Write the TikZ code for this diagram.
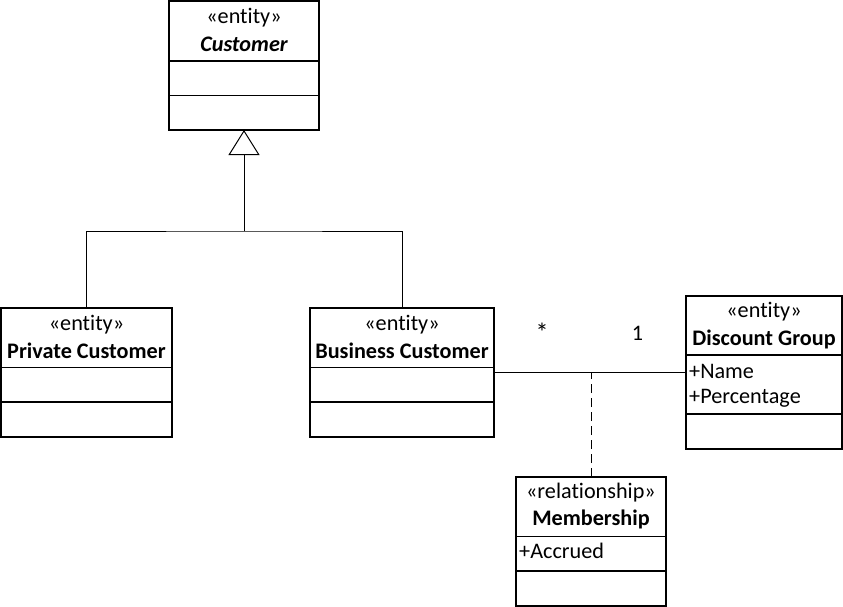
\documentclass[tikz,border=0pt]{standalone}
\usepackage{fontspec}
\setmainfont{Carlito}[Ligatures={NoCommon,NoRequired,NoContextual}]
\usetikzlibrary{arrows.meta}
\tikzset{
  umlbox/.style={draw, line width=1.6pt, anchor=north west, inner sep=0pt, outer sep=0pt},
  divider/.style={line width=1.6pt},
  conn/.style={line width=1pt},
  txt/.style={inner sep=0pt, font=\fontsize{22.2}{26}\selectfont},
  btxt/.style={inner sep=0pt, font=\fontsize{22.2}{26}\selectfont\bfseries},
}
\begin{document}
\begin{tikzpicture}[x=1pt, y=-1pt]
\useasboundingbox[fill=white] (0,0) rectangle (843,607);
% Customer
\node[umlbox, minimum width=150pt, minimum height=129pt] (cust) at (169,1) {};
\draw[divider] (169,61) -- (319,61) (169,95.5) -- (319,95.5);
\node[txt] (custst) at (244,18) {«entity»};
\node[btxt, font=\fontsize{22.2}{26}\selectfont\bfseries\itshape] (custnm) at (244,44) {Customer};
% Private Customer
\node[umlbox, minimum width=171pt, minimum height=129pt] (pc) at (1,308) {};
\draw[divider] (1,367.5) -- (172,367.5) (1,402) -- (172,402);
\node[txt] (pcst) at (86.5,325) {«entity»};
\node[btxt] (pcnm) at (86.5,351) {Private Customer};
% Business Customer
\node[umlbox, minimum width=184pt, minimum height=129pt] (bc) at (310,308) {};
\draw[divider] (310,367.5) -- (494,367.5) (310,402) -- (494,402);
\node[txt] (bcst) at (402,325) {«entity»};
\node[btxt] (bcnm) at (402,351) {Business Customer};
% Discount Group
\node[umlbox, minimum width=156pt, minimum height=153pt] (dg) at (686,296) {};
\draw[divider] (686,355) -- (842,355) (686,414) -- (842,414);
\node[txt] (dgst) at (764,312) {«entity»};
\node[btxt] (dgnm) at (764,339) {Discount Group};
\node[txt, anchor=west] (dga1) at (689,371) {+Name};
\node[txt, anchor=west] (dga2) at (689,398) {+Percentage};
% Membership
\node[umlbox, minimum width=150pt, minimum height=129pt] (mem) at (516,477) {};
\draw[divider] (516,536.5) -- (666,536.5) (516,571) -- (666,571);
\node[txt] (memst) at (591,493) {«relationship»};
\node[btxt] (memnm) at (591,519) {Membership};
\node[txt, anchor=west] (mema1) at (519,551) {+Accrued};
% Generalization
\coordinate (j) at (244,231);
\draw[conn] (pc.north) |- (j) -| (bc.north);
\draw[conn, -{Triangle[open, length=25pt, width=31pt, line width=1pt]}] (j) -- (cust.south);
% Association
\draw[conn] (bc.east) -- (dg.west);
\draw[conn, dashed, dash pattern=on 9pt off 5pt] (mem.north) -- (mem.north |- dg.west);
\node[txt, font=\fontsize{26}{30}\selectfont] (m1) at (542,332) {*};
\node[txt] (m2) at (637.5,333) {1};
\end{tikzpicture}
\end{document}
